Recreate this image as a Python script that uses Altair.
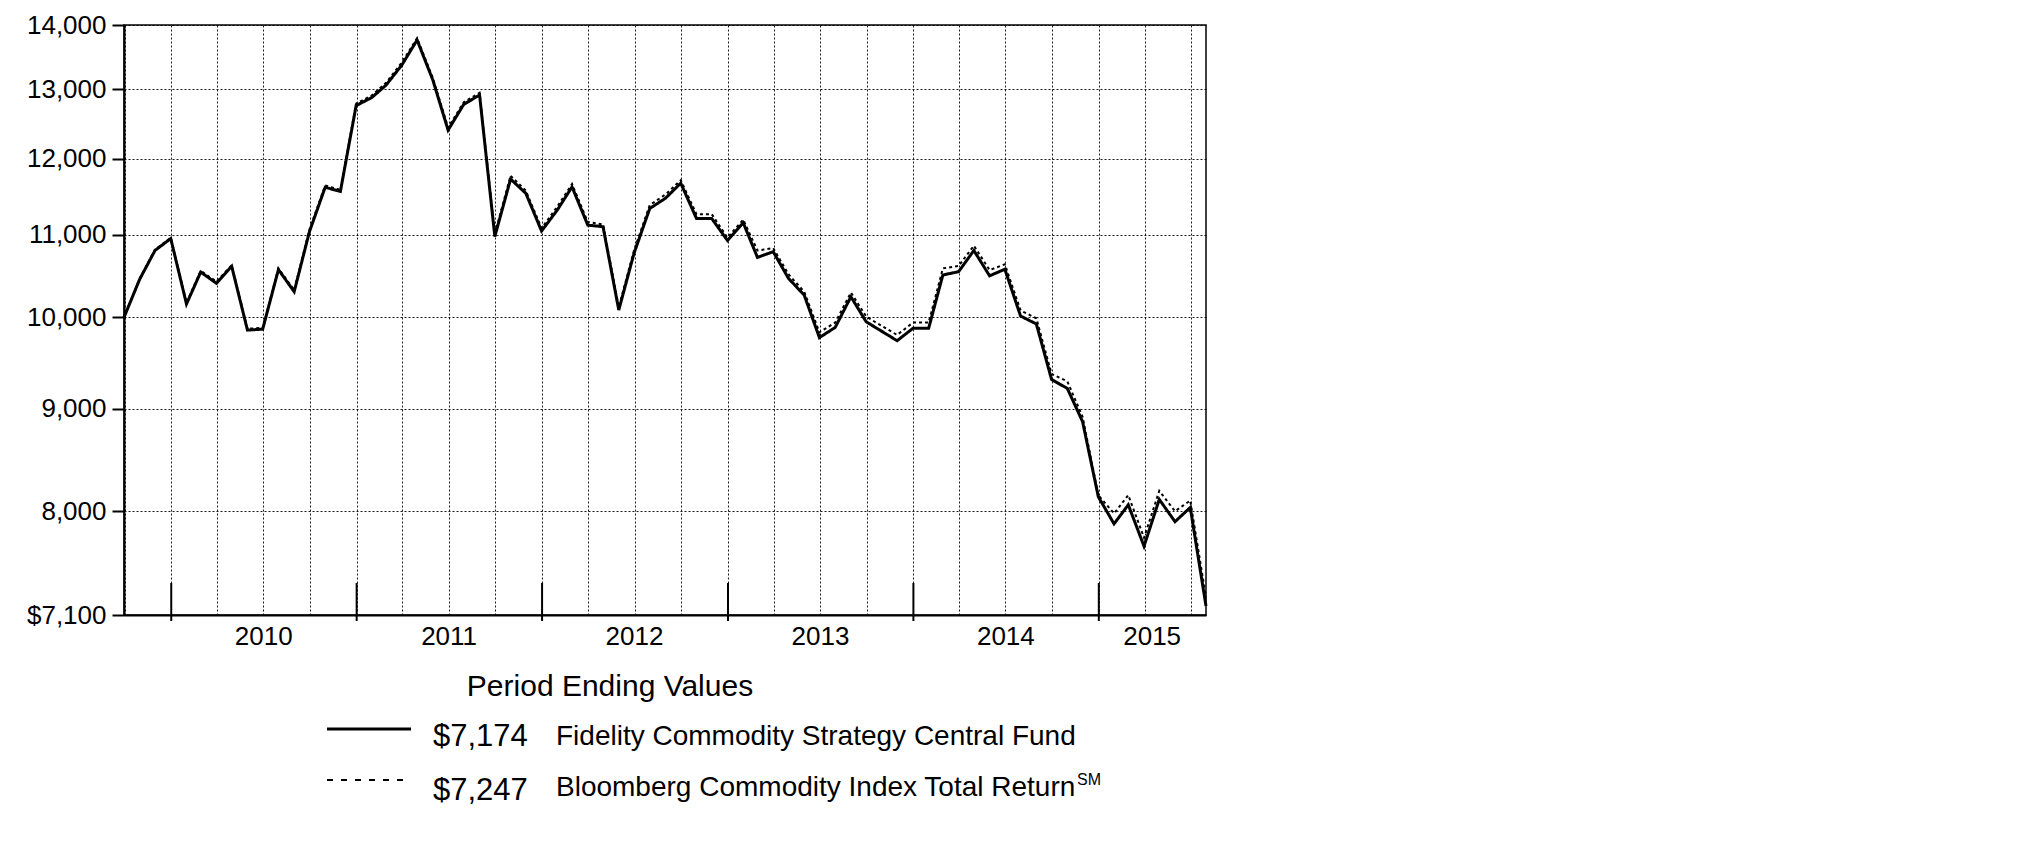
import altair as alt
import pandas as pd

# ---------------- data ----------------
dates = pd.date_range("2009-09-30", periods=71, freq="ME").strftime("%Y-%m-%d").tolist()

fund_name = "Fidelity Commodity Strategy Central Fund"
index_name = "Bloomberg Commodity Index Total Return"

fund = [10000, 10450, 10800, 10950, 10155, 10535, 10400, 10605, 9855, 9865,
        10565, 10300, 11035, 11615, 11560, 12760, 12880, 13065, 13370, 13760,
        13140, 12405, 12780, 12915, 10975, 11725, 11535, 11045, 11315, 11620,
        11120, 11100, 10085, 10765, 11335, 11470, 11670, 11205, 11205, 10925,
        11150, 10715, 10785, 10460, 10260, 9770, 9885, 10240, 9950, 9840,
        9735, 9875, 9875, 10500, 10540, 10800, 10490, 10570, 10015, 9925,
        9310, 9215, 8870, 8135, 7885, 8060, 7685, 8110, 7905, 8035, 7174]

index = [10000, 10460, 10810, 10960, 10170, 10550, 10420, 10620, 9870, 9880,
         10580, 10320, 11060, 11640, 11580, 12790, 12910, 13100, 13410, 13790,
         13170, 12440, 12810, 12950, 11010, 11770, 11570, 11080, 11360, 11660,
         11160, 11130, 10120, 10800, 11380, 11520, 11710, 11260, 11260, 10960,
         11190, 10800, 10830, 10510, 10300, 9830, 9940, 10290, 10010, 9900,
         9800, 9940, 9940, 10580, 10610, 10860, 10560, 10630, 10080, 9990,
         9370, 9290, 8920, 8150, 7980, 8150, 7760, 8190, 8000, 8100, 7247]

y_ticks = [7100, 8000, 9000, 10000, 11000, 12000, 13000, 14000]
year_tick_dates = ["2010-01-01", "2011-01-01", "2012-01-01", "2013-01-01", "2014-01-01", "2015-01-01"]
year_labels = ["2010", "2011", "2012", "2013", "2014", "2015"]
year_label_dates = ["2010-07-02", "2011-07-02", "2012-07-01", "2013-07-02", "2014-07-02", "2015-04-16"]
quarter_dates = pd.date_range("2009-10-01", "2015-07-01", freq="QS").strftime("%Y-%m-%d").tolist()
x_start, x_end = "2009-09-30", "2015-07-31"

legend_title = "Period Ending Values"
fund_end_label = "$7,174"
index_end_label = "$7,247"

# ---------------- helpers ----------------
def ms(d):
    return int(pd.Timestamp(d, tz="UTC").value // 10**6)

FONT = "Liberation Sans"
W, H = 1082, 590

df = pd.DataFrame({
    "date": dates * 2,
    "value": fund + index,
    "series": [fund_name] * len(fund) + [index_name] * len(index),
})

xscale = alt.Scale(type="utc", domain=[ms(x_start), ms(x_end)])
yscale = alt.Scale(type="log", domain=[7100, 14000], nice=False, zero=False)

lines = alt.Chart(df).mark_line(color="black", strokeJoin="miter").encode(
    x=alt.X("date:T", scale=xscale, title=None,
            axis=alt.Axis(values=[ms(d) for d in quarter_dates], grid=True, labels=False,
                          ticks=False, domain=True, domainColor="black", domainWidth=2,
                          gridColor="black", gridDash=[2, 2], gridWidth=1, gridOpacity=0.9)),
    y=alt.Y("value:Q", scale=yscale, title=None,
            axis=alt.Axis(values=y_ticks, grid=True, gridColor="black", gridDash=[2, 2],
                          gridWidth=1, gridOpacity=0.9,
                          labelExpr="datum.value == 7100 ? '$7,100' : format(datum.value, ',')",
                          labelFont=FONT, labelFontSize=26, labelColor="black", labelPadding=6,
                          tickColor="black", tickWidth=2, tickSize=12,
                          domainColor="black", domainWidth=2)),
    strokeDash=alt.StrokeDash("series:N", scale=alt.Scale(domain=[fund_name, index_name],
                                                          range=[[1, 0], [3, 3]]), legend=None),
    strokeWidth=alt.StrokeWidth("series:N", scale=alt.Scale(domain=[fund_name, index_name],
                                                            range=[3, 2]), legend=None),
)

yt = pd.DataFrame({"date": year_tick_dates})
year_ticks = alt.Chart(yt).mark_rule(color="black", strokeWidth=2).encode(
    x=alt.X("date:T", scale=xscale),
    y=alt.value(H - 32),
    y2=alt.value(H + 6),
)

yl = pd.DataFrame({"date": year_label_dates, "label": year_labels})
year_text = alt.Chart(yl).mark_text(font=FONT, fontSize=26, color="black", align="center",
                                    baseline="alphabetic").encode(
    x=alt.X("date:T", scale=xscale),
    y=alt.value(620),
    text="label:N",
)

def txt(s, x, y, size, align="left"):
    return alt.Chart(pd.DataFrame({"t": [s]})).mark_text(
        font=FONT, fontSize=size, color="black", align=align, baseline="alphabetic"
    ).encode(x=alt.value(x), y=alt.value(y), text="t:N")

def sample(y, dash, width):
    return alt.Chart(pd.DataFrame({"t": [0]})).mark_rule(
        color="black", strokeWidth=width, strokeDash=dash
    ).encode(x=alt.value(203), x2=alt.value(287), y=alt.value(y))

legend = [
    txt(legend_title, 486, 671, 30, "center"),
    sample(704, [1, 0], 3),
    txt(fund_end_label, 309, 721, 31),
    txt(fund_name, 432, 720, 28),
    sample(755, [6, 8], 2),
    txt(index_end_label, 309, 775, 31),
    txt(index_name, 432, 771, 28),
    txt("SM", 953, 760, 16),
]

chart = alt.layer(lines, year_ticks, year_text, *legend).properties(
    width=W, height=H,
    padding={"left": 116, "top": 17, "right": 12, "bottom": 215},
    autosize=alt.AutoSizeParams(type="none"),
).configure_view(stroke="black", strokeWidth=1.5)

chart.save("out.html", embed_options={"renderer": "svg", "actions": False})
